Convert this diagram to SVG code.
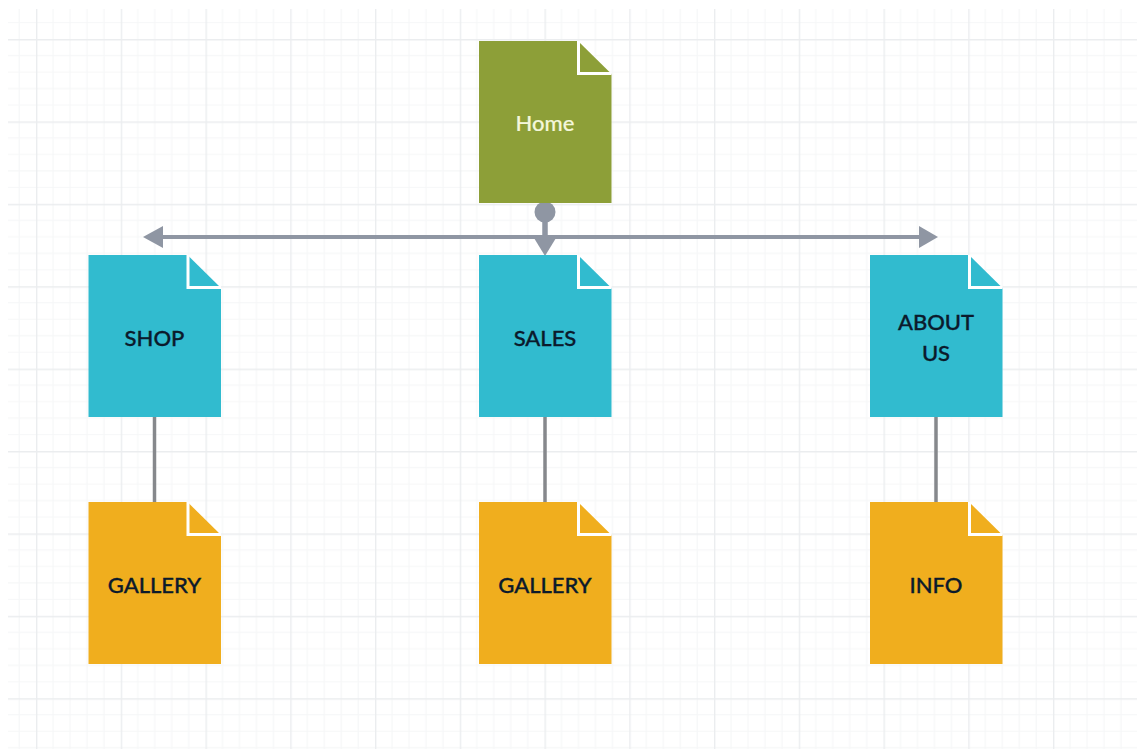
<svg xmlns="http://www.w3.org/2000/svg" width="1137" height="749" viewBox="0 0 1137 749">
<defs>
<pattern id="grid" patternUnits="userSpaceOnUse" x="36" y="39" width="84.75" height="82.4">
<path d="M17 0V82.4M34 0V82.4M51 0V82.4M68 0V82.4M0 16.5H84.75M0 33H84.75M0 49.5H84.75M0 66H84.75" fill="none" stroke="#f6f7f8" stroke-width="1.2"/>
<path d="M0.5 0V82.4M0 0.5H84.75" fill="none" stroke="#ebedef" stroke-width="1.8"/>
</pattern>
<path id="page" d="M0 0H99L132.500 33V162H0Z"/>
<path id="fold" d="M99.500 0V32.500H132.500" fill="none" stroke="#fff" stroke-width="3"/>
</defs>
<style>
.lbl{font-family:Lato,"Liberation Sans",sans-serif;font-size:22px;font-weight:500;text-anchor:middle;fill:#0b1a2c;stroke:#0b1a2c;stroke-width:.35}
.home{fill:#f4f7dc;stroke:#f4f7dc;stroke-width:.2}
.con{fill:none;stroke:#8f96a3;stroke-width:4}
.stem{fill:none;stroke:#8f96a3;stroke-width:5.5}
.sub{fill:none;stroke:#86888c;stroke-width:3.500}
.head{fill:#8f96a3}
.green{fill:#8d9f38}.blue{fill:#31bbcf}.amber{fill:#f0ae1e}
</style>
<rect width="1137" height="749" fill="#fff"/>
<rect x="8" y="9" width="1129" height="740" fill="url(#grid)"/>
<g id="connectors">
<path class="con" d="M160 237H922"/>
<path class="stem" d="M545 212V240"/>
<circle class="head" cx="545" cy="212" r="10.500"/>
<path class="head" d="M143 237L163 226V248Z"/>
<path class="head" d="M938 237L919 226V248Z"/>
<path class="head" d="M534 238H556L545 256Z"/>
<path class="sub" d="M154.500 417V502"/>
<path class="sub" d="M545 417V502"/>
<path class="sub" d="M936 417V502"/>
</g>
<g id="home" transform="translate(479 41)"><use href="#page" class="green"/><use href="#fold"/><text class="lbl home" x="66" y="90">Home</text></g>
<g id="shop" transform="translate(88.500 255)"><use href="#page" class="blue"/><use href="#fold"/><text class="lbl" x="66" y="91">SHOP</text></g>
<g id="sales" transform="translate(479 255)"><use href="#page" class="blue"/><use href="#fold"/><text class="lbl" x="66" y="91">SALES</text></g>
<g id="about" transform="translate(870 255)"><use href="#page" class="blue"/><use href="#fold"/><text class="lbl" x="66" y="75">ABOUT</text><text class="lbl" x="66" y="106">US</text></g>
<g id="gallery1" transform="translate(88.500 502)"><use href="#page" class="amber"/><use href="#fold"/><text class="lbl" x="66" y="91">GALLERY</text></g>
<g id="gallery2" transform="translate(479 502)"><use href="#page" class="amber"/><use href="#fold"/><text class="lbl" x="66" y="91">GALLERY</text></g>
<g id="info" transform="translate(870 502)"><use href="#page" class="amber"/><use href="#fold"/><text class="lbl" x="66" y="91">INFO</text></g>
</svg>
